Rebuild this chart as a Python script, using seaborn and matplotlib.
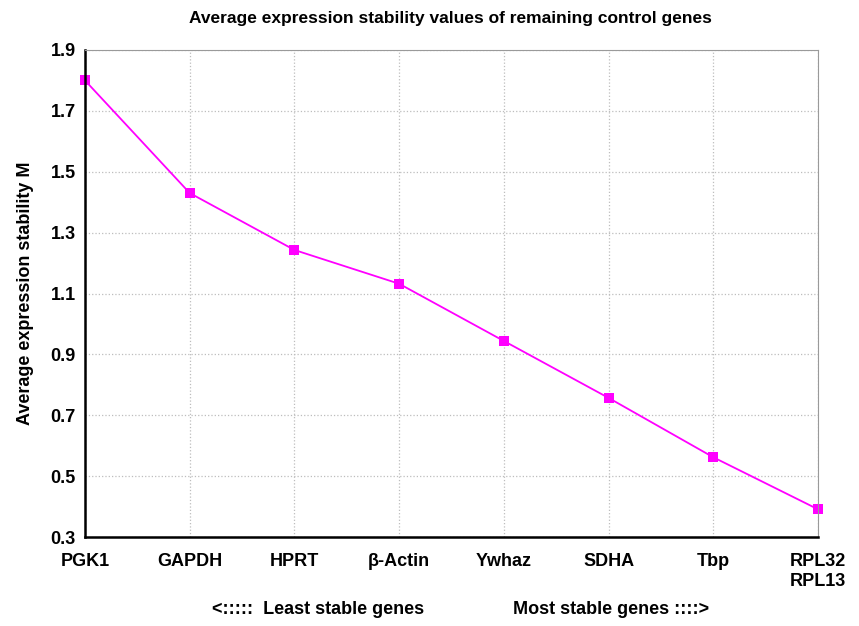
import numpy as np
import pandas as pd
import matplotlib
matplotlib.use("Agg")
import matplotlib.pyplot as plt
import seaborn as sns

# datos
genes = ["PGK1", "GAPDH", "HPRT", "β-Actin", "Ywhaz", "SDHA", "Tbp", "RPL32\nRPL13"]
stability_m = [1.80, 1.43, 1.243, 1.132, 0.944, 0.757, 0.562, 0.391]
y_ticks = [0.3, 0.5, 0.7, 0.9, 1.1, 1.3, 1.5, 1.7, 1.9]

df = pd.DataFrame({"pos": np.arange(len(genes)), "M": stability_m})

sns.set_style("white")
plt.rcParams["font.family"] = ["Liberation Sans", "DejaVu Sans"]
plt.rcParams["font.weight"] = "bold"
plt.rcParams["text.color"] = "black"
plt.rcParams["axes.labelcolor"] = "black"
plt.rcParams["xtick.color"] = "black"
plt.rcParams["ytick.color"] = "black"

fig = plt.figure(figsize=(8.59, 6.26), dpi=100)
ax = fig.add_axes([85 / 859, 1 - 537 / 626, (818 - 85) / 859, (537 - 50) / 626])

sns.lineplot(data=df, x="pos", y="M", ax=ax, color="#ff00ff", linewidth=1.3,
             marker="s", markersize=6.5, markeredgewidth=0, clip_on=False)

ax.set_xlim(0, len(genes) - 1)
ax.set_ylim(0.3, 1.9)
ax.set_xticks(df["pos"])
ax.set_xticklabels(genes, fontsize=13, fontweight="bold")
ax.set_yticks(y_ticks)
ax.set_yticklabels([f"{v:.1f}" for v in y_ticks], fontsize=13, fontweight="bold")
ax.tick_params(axis="x", direction="inout", length=5, width=1, pad=9)
ax.tick_params(axis="y", direction="inout", length=5, width=1, pad=4)

ax.grid(True, color="#bdbdbd", linestyle=":", linewidth=0.9)
ax.set_axisbelow(True)

for s in ["left", "bottom"]:
    ax.spines[s].set_color("black")
    ax.spines[s].set_linewidth(1.8)
for s in ["top", "right"]:
    ax.spines[s].set_color("#9a9a9a")
    ax.spines[s].set_linewidth(0.8)

ax.set_xlabel("")
ax.set_ylabel("Average expression stability M", fontsize=13, fontweight="bold", labelpad=12)

fig.text(450 / 859, 1 - 19 / 626, "Average expression stability values of remaining control genes",
         ha="center", va="center", fontsize=12.5, fontweight="bold")
fig.text(318 / 859, 1 - 609 / 626, "<:::::  Least stable genes",
         ha="center", va="center", fontsize=13, fontweight="bold")
fig.text(611 / 859, 1 - 609 / 626, "Most stable genes ::::>",
         ha="center", va="center", fontsize=13, fontweight="bold")

fig.savefig("out.png", dpi=100)
